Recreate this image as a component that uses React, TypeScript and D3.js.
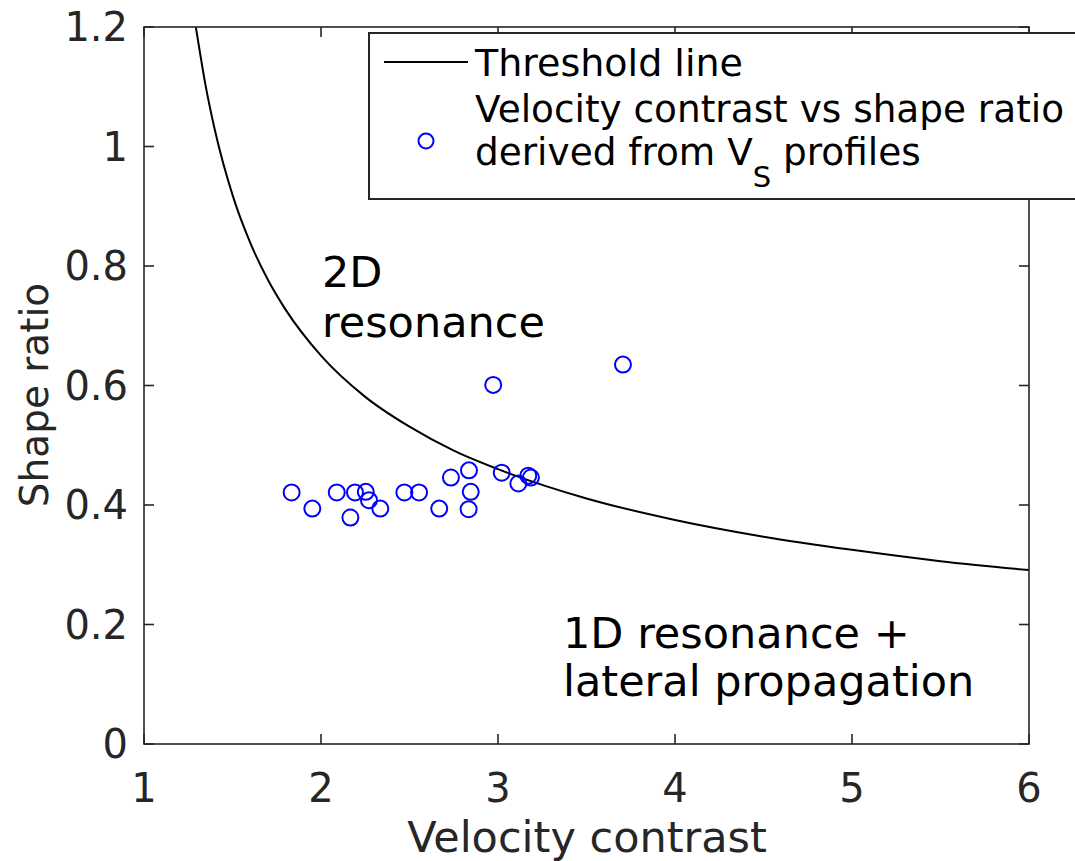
import React from "react";
import * as d3 from "d3";

const W = 1075;
const H = 861;

// Threshold line points (velocity contrast, shape ratio)
const thresholdX = [1.293, 1.35, 1.4, 1.5, 1.6, 1.7, 1.8, 2.0, 2.25, 2.5, 2.75, 3.0, 3.5, 4.0, 4.5, 5.0, 5.5, 6.0];
const thresholdY = [1.2, 1.099, 1.028, 0.919, 0.839, 0.777, 0.727, 0.65, 0.581, 0.531, 0.491, 0.46, 0.411, 0.375, 0.347, 0.325, 0.306, 0.291];

// Observed points
const contrastValues = [1.834, 1.951, 2.089, 2.166, 2.192, 2.253, 2.271, 2.335, 2.471, 2.554, 2.668, 2.734, 2.836, 2.846, 2.834, 3.021, 3.115, 3.171, 3.186, 2.973, 3.706];
const shapeValues = [0.421, 0.394, 0.421, 0.379, 0.421, 0.422, 0.408, 0.394, 0.421, 0.421, 0.394, 0.446, 0.458, 0.422, 0.393, 0.454, 0.436, 0.449, 0.446, 0.601, 0.635];

const xTicks = [1, 2, 3, 4, 5, 6];
const yTicks = [0, 0.2, 0.4, 0.6, 0.8, 1, 1.2];
const yTickLabels = ["0", "0.2", "0.4", "0.6", "0.8", "1", "1.2"];

const FONT = "'DejaVu Sans', sans-serif";
const AX = "#262626";

export default function App() {
  const left = 144, right = 1029, top = 27, bottom = 744;
  const x = d3.scaleLinear().domain([1, 6]).range([left, right]);
  const y = d3.scaleLinear().domain([0, 1.2]).range([bottom, top]);
  const tick = 10;

  const pts = thresholdX.map((v, i) => [v, thresholdY[i]] as [number, number]);
  const line = d3
    .line<[number, number]>()
    .x((d) => x(d[0]))
    .y((d) => y(d[1]))
    .curve(d3.curveMonotoneX);

  return (
    <svg
      width={W}
      height={H}
      style={{ position: "absolute", left: 0, top: 0, background: "#fff" }}
      fontFamily={FONT}
    >
      <rect x={0} y={0} width={W} height={H} fill="#fff" />
      <defs>
        <clipPath id="plotclip">
          <rect x={left} y={top} width={right - left} height={bottom - top} />
        </clipPath>
      </defs>

      {/* threshold line */}
      <path d={line(pts) || ""} fill="none" stroke="#000" strokeWidth={2} clipPath="url(#plotclip)" />

      {/* scatter */}
      {contrastValues.map((v, i) => (
        <circle key={i} cx={x(v)} cy={y(shapeValues[i])} r={8} fill="none" stroke="#0000ff" strokeWidth={2} />
      ))}

      {/* axes box */}
      <rect x={left} y={top} width={right - left} height={bottom - top} fill="none" stroke={AX} strokeWidth={1.6} />
      {xTicks.map((t) => (
        <g key={"x" + t}>
          <line x1={x(t)} x2={x(t)} y1={bottom} y2={bottom - tick} stroke={AX} strokeWidth={1.6} />
          <line x1={x(t)} x2={x(t)} y1={top} y2={top + tick} stroke={AX} strokeWidth={1.6} />
          <text x={x(t)} y={802} textAnchor="middle" fontSize={40} fill={AX}>
            {t}
          </text>
        </g>
      ))}
      {yTicks.map((t, i) => (
        <g key={"y" + t}>
          <line x1={left} x2={left + tick} y1={y(t)} y2={y(t)} stroke={AX} strokeWidth={1.6} />
          <line x1={right} x2={right - tick} y1={y(t)} y2={y(t)} stroke={AX} strokeWidth={1.6} />
          <text x={128} y={y(t)} dy="0.36em" textAnchor="end" fontSize={40} fill={AX}>
            {yTickLabels[i]}
          </text>
        </g>
      ))}

      {/* axis titles */}
      <text x={587} y={852} textAnchor="middle" fontSize={43} fill={AX}>
        Velocity contrast
      </text>
      <text transform={`translate(48,395) rotate(-90)`} textAnchor="middle" fontSize={39} fill={AX}>
        Shape ratio
      </text>

      {/* annotations */}
      <text x={322} y={287} fontSize={43} fill="#000">2D</text>
      <text x={322} y={337} fontSize={43} fill="#000">resonance</text>
      <text x={563} y={648} fontSize={43} fill="#000">1D resonance +</text>
      <text x={563} y={696} fontSize={43} fill="#000">lateral propagation</text>

      {/* legend */}
      <rect x={369} y={33} width={720} height={166} fill="#fff" stroke={AX} strokeWidth={2} />
      <line x1={384} x2={468} y1={62} y2={62} stroke="#000" strokeWidth={2} />
      <text x={475} y={76} fontSize={38} fill="#000">Threshold line</text>
      <circle cx={426} cy={141} r={7.5} fill="none" stroke="#0000ff" strokeWidth={2} />
      <text x={475} y={122} fontSize={37.4} fill="#000">Velocity contrast vs shape ratio</text>
      <text x={475} y={165} fontSize={37.4} fill="#000">
        derived from V
        <tspan fontSize={29} dy={22}>S</tspan>
        <tspan dy={-22}> profiles</tspan>
      </text>
    </svg>
  );
}
